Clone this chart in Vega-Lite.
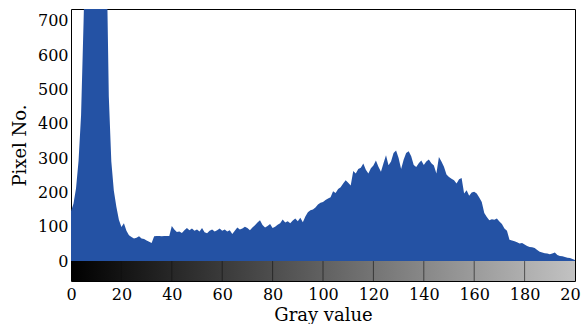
{
  "$schema": "https://vega.github.io/schema/vega-lite/v6.json",
  "width": 504,
  "height": 272,
  "autosize": {"type": "none"},
  "padding": {"left": 71, "top": 9, "right": 6, "bottom": 43},
  "background": "white",
  "config": {
    "view": {"stroke": "#000", "strokeWidth": 1},
    "font": "DejaVu Serif",
    "axis": {"labelColor": "#000", "titleColor": "#000", "labelFont": "DejaVu Serif", "titleFont": "DejaVu Serif"}
  },
  "encoding": {
    "x": {
      "field": "g", "type": "quantitative",
      "scale": {"domain": [0, 200], "nice": false, "zero": false},
      "axis": {
        "title": "Gray value", "values": [0,20,40,60,80,100,120,140,160,180,200],
        "ticks": false, "domain": false, "grid": false,
        "labelFontSize": 16, "labelPadding": 5, "labelOverlap": false, "labelBound": false, "labelFlush": false,
        "titleFontSize": 18, "titleFontWeight": "normal", "titlePadding": 4
      }
    },
    "y": {
      "field": "n", "type": "quantitative",
      "scale": {"domain": [-58, 734], "nice": false, "zero": false},
      "axis": {
        "title": "Pixel No.", "values": [0,100,200,300,400,500,600,700],
        "ticks": false, "domain": false, "grid": false,
        "labelFontSize": 16, "labelPadding": 3, "labelOverlap": false, "labelBound": false, "labelFlush": false,
        "titleFontSize": 18, "titleFontWeight": "normal", "titlePadding": 8
      }
    }
  },
  "layer": [
    {
      "data": {"values": [{"g": 0, "g2": 200, "n": -58, "n2": 0}]},
      "mark": {
        "type": "rect",
        "color": {
          "gradient": "linear", "x1": 0, "y1": 0, "x2": 1, "y2": 0,
          "stops": [{"offset": 0, "color": "#000000"}, {"offset": 1, "color": "#c2c2c2"}]
        }
      },
      "encoding": {
        "x2": {"field": "g2"},
        "y2": {"field": "n2"}
      }
    },
    {
      "data": {"values": [
        {"g":0,"n":145},{"g":1,"n":168},{"g":2,"n":212},{"g":3,"n":292},{"g":4,"n":425},{"g":5,"n":700},{"g":6,"n":1000},{"g":7,"n":1200},{"g":8,"n":1400},{"g":9,"n":1450},
        {"g":10,"n":1350},{"g":11,"n":1200},{"g":12,"n":1100},{"g":13,"n":1000},{"g":14,"n":950},{"g":15,"n":480},{"g":16,"n":290},{"g":17,"n":205},{"g":18,"n":158},{"g":19,"n":120},
        {"g":20,"n":99},{"g":21,"n":110},{"g":22,"n":88},{"g":23,"n":75},{"g":24,"n":70},{"g":25,"n":66},{"g":26,"n":68},{"g":27,"n":72},{"g":28,"n":66},{"g":29,"n":64},
        {"g":30,"n":60},{"g":31,"n":56},{"g":32,"n":53},{"g":33,"n":72},{"g":34,"n":73},{"g":35,"n":73},{"g":36,"n":72},{"g":37,"n":73},{"g":38,"n":73},{"g":39,"n":73},
        {"g":40,"n":102},{"g":41,"n":92},{"g":42,"n":85},{"g":43,"n":86},{"g":44,"n":82},{"g":45,"n":90},{"g":46,"n":96},{"g":47,"n":90},{"g":48,"n":95},{"g":49,"n":88},
        {"g":50,"n":92},{"g":51,"n":86},{"g":52,"n":96},{"g":53,"n":84},{"g":54,"n":81},{"g":55,"n":88},{"g":56,"n":92},{"g":57,"n":86},{"g":58,"n":90},{"g":59,"n":95},
        {"g":60,"n":88},{"g":61,"n":92},{"g":62,"n":86},{"g":63,"n":90},{"g":64,"n":79},{"g":65,"n":88},{"g":66,"n":98},{"g":67,"n":92},{"g":68,"n":95},{"g":69,"n":100},
        {"g":70,"n":96},{"g":71,"n":90},{"g":72,"n":98},{"g":73,"n":104},{"g":74,"n":112},{"g":75,"n":119},{"g":76,"n":105},{"g":77,"n":98},{"g":78,"n":102},{"g":79,"n":108},
        {"g":80,"n":96},{"g":81,"n":100},{"g":82,"n":106},{"g":83,"n":110},{"g":84,"n":121},{"g":85,"n":112},{"g":86,"n":116},{"g":87,"n":110},{"g":88,"n":118},{"g":89,"n":124},
        {"g":90,"n":116},{"g":91,"n":126},{"g":92,"n":113},{"g":93,"n":130},{"g":94,"n":142},{"g":95,"n":148},{"g":96,"n":150},{"g":97,"n":156},{"g":98,"n":165},{"g":99,"n":170},
        {"g":100,"n":172},{"g":101,"n":178},{"g":102,"n":182},{"g":103,"n":186},{"g":104,"n":203},{"g":105,"n":198},{"g":106,"n":210},{"g":107,"n":215},{"g":108,"n":226},{"g":109,"n":235},
        {"g":110,"n":228},{"g":111,"n":220},{"g":112,"n":262},{"g":113,"n":255},{"g":114,"n":268},{"g":115,"n":272},{"g":116,"n":284},{"g":117,"n":266},{"g":118,"n":255},{"g":119,"n":270},
        {"g":120,"n":278},{"g":121,"n":293},{"g":122,"n":275},{"g":123,"n":260},{"g":124,"n":285},{"g":125,"n":308},{"g":126,"n":279},{"g":127,"n":290},{"g":128,"n":315},{"g":129,"n":322},
        {"g":130,"n":300},{"g":131,"n":268},{"g":132,"n":295},{"g":133,"n":315},{"g":134,"n":320},{"g":135,"n":305},{"g":136,"n":280},{"g":137,"n":274},{"g":138,"n":285},{"g":139,"n":293},
        {"g":140,"n":280},{"g":141,"n":290},{"g":142,"n":296},{"g":143,"n":285},{"g":144,"n":278},{"g":145,"n":255},{"g":146,"n":303},{"g":147,"n":290},{"g":148,"n":275},{"g":149,"n":252},
        {"g":150,"n":245},{"g":151,"n":240},{"g":152,"n":235},{"g":153,"n":226},{"g":154,"n":238},{"g":155,"n":242},{"g":156,"n":197},{"g":157,"n":206},{"g":158,"n":190},{"g":159,"n":200},
        {"g":160,"n":202},{"g":161,"n":197},{"g":162,"n":185},{"g":163,"n":172},{"g":164,"n":140},{"g":165,"n":128},{"g":166,"n":119},{"g":167,"n":122},{"g":168,"n":120},{"g":169,"n":124},
        {"g":170,"n":115},{"g":171,"n":108},{"g":172,"n":95},{"g":173,"n":88},{"g":174,"n":62},{"g":175,"n":60},{"g":176,"n":58},{"g":177,"n":55},{"g":178,"n":51},{"g":179,"n":53},
        {"g":180,"n":48},{"g":181,"n":44},{"g":182,"n":41},{"g":183,"n":40},{"g":184,"n":38},{"g":185,"n":32},{"g":186,"n":27},{"g":187,"n":25},{"g":188,"n":23},{"g":189,"n":22},
        {"g":190,"n":20},{"g":191,"n":22},{"g":192,"n":25},{"g":193,"n":18},{"g":194,"n":15},{"g":195,"n":14},{"g":196,"n":12},{"g":197,"n":10},{"g":198,"n":9},{"g":199,"n":6},
        {"g":200,"n":3}
      ]},
      "mark": {"type": "area", "color": "#2452a4", "clip": true, "interpolate": "linear"},
      "encoding": {
        "y2": {"datum": 0}
      }
    },
    {
      "data": {"values": [
        {"g":20,"n":-58,"n2":0},{"g":40,"n":-58,"n2":0},{"g":60,"n":-58,"n2":0},{"g":80,"n":-58,"n2":0},{"g":100,"n":-58,"n2":0},
        {"g":120,"n":-58,"n2":0},{"g":140,"n":-58,"n2":0},{"g":160,"n":-58,"n2":0},{"g":180,"n":-58,"n2":0}
      ]},
      "mark": {"type": "rule", "color": "#111", "strokeWidth": 1, "opacity": 0.6},
      "encoding": {
        "y2": {"field": "n2"}
      }
    }
  ]
}
